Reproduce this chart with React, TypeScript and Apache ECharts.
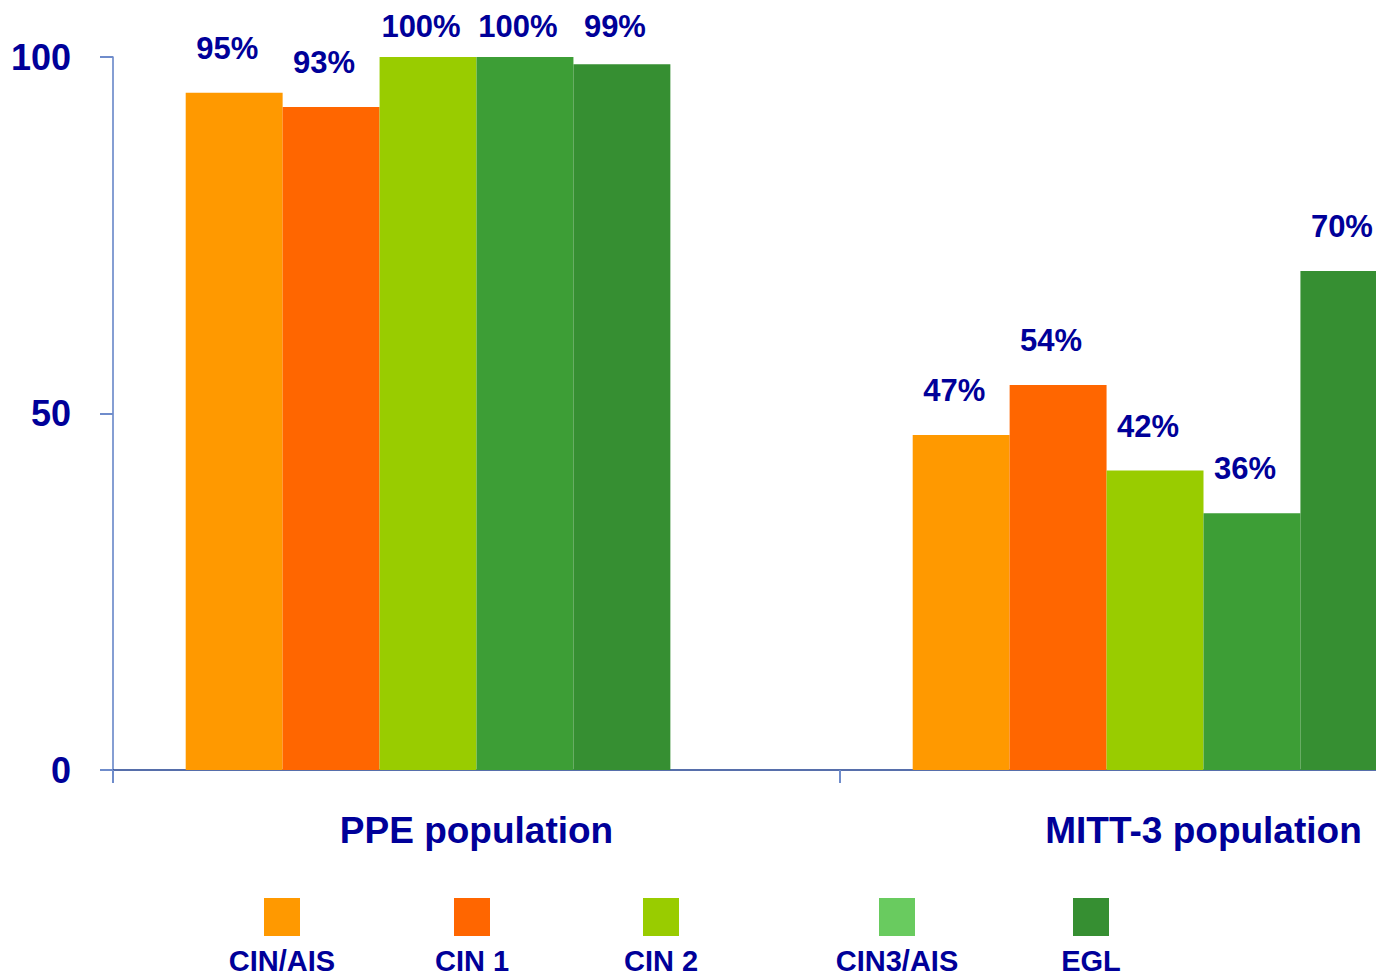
import React, { useEffect, useRef } from "react";
import * as echarts from "echarts";

const categories = ["PPE population", "MITT-3 population"];
const seriesNames = ["CIN/AIS", "CIN 1", "CIN 2", "CIN3/AIS", "EGL"];
const cinAis = [95, 47];
const cin1 = [93, 54];
const cin2 = [100, 42];
const cin3Ais = [100, 36];
const egl = [99, 70];
// the original chart keeps an empty sixth slot in each group
const emptySlot: (number | null)[] = [null, null];
const yTicks = [0, 50, 100];

const barColors = ["#FF9900", "#FF6600", "#99CC00", "#3D9E36", "#368F32"];
const legendColors = ["#FF9900", "#FF6600", "#99CC00", "#69CB5F", "#368F32"];
const legendX = [282, 472, 661, 897, 1091];

const W = 1376;
const H = 976;
const CHART_W = 1600;
const GRID_LEFT = 113;
const CAT_W = 727;
const GRID_TOP = 57;
const GRID_BOTTOM_PX = 770;
const CAT_GAP = 0.2;
const TEXT = "#000099";
const FONT = '"Liberation Sans", Arial, sans-serif';

export default function App() {
  const ref = useRef<HTMLDivElement>(null);
  useEffect(() => {
    if (!ref.current) return;
    const chart = echarts.init(ref.current, undefined, { renderer: "svg" });
    const values = [cinAis, cin1, cin2, cin3Ais, egl];
    const pxPerUnit = (GRID_BOTTOM_PX - GRID_TOP) / 100;
    const labelFor = (v: number) => {
      const barTop = GRID_BOTTOM_PX - v * pxPerUnit;
      const center = Math.max(barTop - 44, 27);
      return { distance: barTop - center - 15 };
    };
    const series: any[] = seriesNames.map((name, i) => ({
      name,
      type: "bar",
      barGap: "0%",
      barCategoryGap: `${CAT_GAP * 100}%`,
      itemStyle: { color: barColors[i] },
      label: {
        show: true,
        position: "top",
        offset: [-7, 0],
        formatter: "{c}%",
        color: TEXT,
        fontWeight: "bold",
        fontSize: 31,
        fontFamily: FONT,
      },
      data: values[i].map((v) => ({ value: v, label: labelFor(v) })),
    }));
    series.push({
      name: "",
      type: "bar",
      barGap: "0%",
      barCategoryGap: `${CAT_GAP * 100}%`,
      data: emptySlot,
      silent: true,
    });
    const graphic: any[] = [];
    seriesNames.forEach((name, i) => {
      graphic.push({
        type: "rect",
        shape: { x: legendX[i] - 18, y: 898, width: 36, height: 38 },
        style: { fill: legendColors[i] },
      });
      graphic.push({
        type: "text",
        x: legendX[i],
        y: 961,
        style: {
          text: name,
          fill: TEXT,
          font: `bold 29px ${FONT}`,
          textAlign: "center",
          textVerticalAlign: "middle",
        },
      });
    });
    chart.setOption({
      animation: false,
      grid: {
        left: GRID_LEFT,
        top: GRID_TOP,
        bottom: H - GRID_BOTTOM_PX,
        right: CHART_W - (GRID_LEFT + 2 * CAT_W),
        containLabel: false,
      },
      xAxis: {
        type: "category",
        data: categories,
        axisLine: { show: true, lineStyle: { color: "#1F3F8F", width: 1.5 } },
        axisTick: { show: true, length: 13, lineStyle: { color: "#6F8CCB", width: 2 } },
        axisLabel: {
          color: TEXT,
          fontWeight: "bold",
          fontSize: 37,
          fontFamily: FONT,
          margin: 42,
        },
      },
      yAxis: {
        type: "value",
        min: 0,
        max: 100,
        interval: 50,
        splitLine: { show: false },
        axisLine: { show: true, lineStyle: { color: "#5D7EC4", width: 1.5 } },
        axisTick: { show: true, length: 13, lineStyle: { color: "#6F8CCB", width: 2 } },
        axisLabel: {
          color: TEXT,
          fontWeight: "bold",
          fontSize: 36,
          fontFamily: FONT,
          margin: 42,
          formatter: (v: number) => (yTicks.includes(v) ? String(v) : ""),
        },
      },
      graphic,
      series,
    });
    return () => chart.dispose();
  }, []);
  return (
    <div
      style={{
        position: "fixed",
        left: 0,
        top: 0,
        width: W,
        height: H,
        overflow: "hidden",
        background: "#fff",
      }}
    >
      <div ref={ref} style={{ width: CHART_W, height: H }} />
    </div>
  );
}
